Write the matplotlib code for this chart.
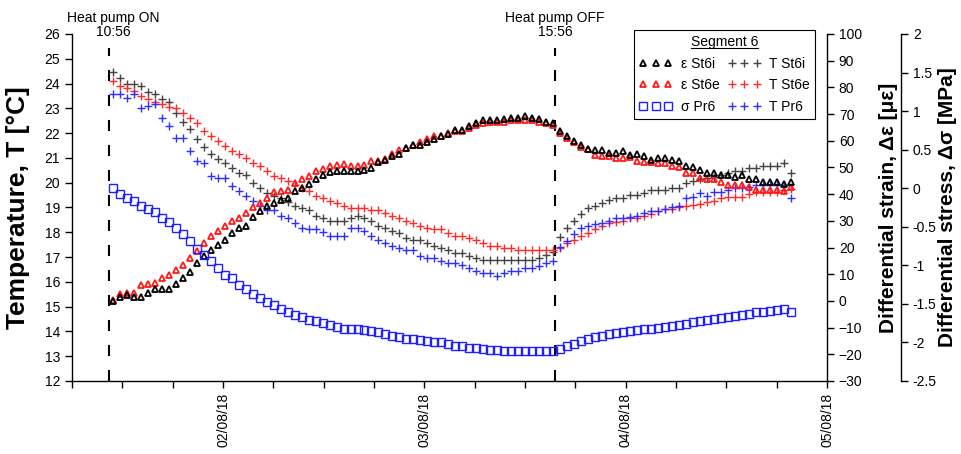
import matplotlib
matplotlib.use('Agg')
import matplotlib.pyplot as plt
import matplotlib.dates as mdates
import matplotlib.transforms as mtransforms
from matplotlib.lines import Line2D
from matplotlib.ticker import FuncFormatter
import pandas as pd

plt.rcParams['font.family'] = ['Liberation Sans', 'DejaVu Sans']

# logger samples every 50 min, first one just after the heat pump went on
first_sample = '2018-08-01 10:52'
sample_step = '50min'
heat_on = pd.Timestamp('2018-08-01 10:56')
heat_off = pd.Timestamp('2018-08-03 15:56')
# where the dashed markers sit in the picture
on_line = pd.Timestamp('2018-08-01 10:27')
off_line = pd.Timestamp('2018-08-03 15:34')
x_start = pd.Timestamp('2018-08-01 06:00')
x_end = pd.Timestamp('2018-08-05 00:00')

# differential strain [microstrain]
eps_st6i = [0.0, 1.3, 2.2, 1.6, 1.6, 2.8, 4.3, 4.6, 4.6, 6.5, 8.7, 10.8, 14.1, 17.0, 19.2, 20.9, 22.9, 25.3, 27.4,
            28.0, 31.4, 33.6, 35.5, 36.7, 37.7, 38.6, 41.1, 42.4, 43.9, 45.8, 47.1, 48.3, 48.6, 48.6, 48.6, 48.6, 49.2, 49.8,
            52.1, 52.9, 54.2, 55.1, 57.3, 58.5, 58.5, 59.5, 60.8, 61.9, 62.6, 64.1, 64.1, 65.4, 66.6, 67.9, 67.9, 67.9, 68.2,
            68.7, 68.7, 69.1, 68.7, 68.2, 67.2, 66.6, 63.8, 61.9, 60.0, 58.3, 57.0, 56.4, 56.4, 55.4, 55.4, 56.0, 54.8, 55.2, 54.2,
            52.9, 53.6, 53.6, 52.9, 52.3, 50.4, 50.2, 49.2, 48.0, 48.0, 47.3, 47.3, 46.3, 47.1, 45.5, 45.5, 44.5, 44.5, 44.5, 43.9, 44.5]
eps_st6e = [0.2, 2.5, 3.0, 3.0, 5.8, 6.2, 6.9, 8.5, 9.7, 11.7, 13.4, 16.2, 18.7, 21.8, 24.2, 26.2, 28.0, 29.9, 30.9,
            33.0, 35.1, 36.5, 38.6, 40.7, 41.1, 41.7, 44.2, 45.8, 46.7, 48.8, 49.5, 50.4, 51.1, 51.3, 50.7, 50.7, 51.1, 52.4,
            52.5, 53.3, 55.2, 56.4, 57.3, 58.5, 59.5, 60.8, 61.6, 61.9, 62.9, 63.8, 63.8, 64.8, 66.0, 66.6, 67.2, 67.2, 67.2,
            67.9, 67.9, 67.9, 67.6, 66.9, 66.6, 65.8, 62.9, 61.0, 59.5, 57.7, 57.0, 54.8, 54.4, 54.2, 53.6, 53.6, 53.9, 52.6, 52.1,
            52.1, 51.7, 51.7, 50.4, 50.2, 48.0, 48.0, 46.1, 45.7, 45.7, 44.5, 43.6, 43.6, 43.6, 42.6, 41.7, 41.7, 41.7, 41.7, 41.1, 42.6]

# differential stress [MPa]
sig_pr6 = [0.0, -0.07, -0.13, -0.17, -0.23, -0.27, -0.31, -0.38, -0.44, -0.52, -0.60, -0.68, -0.79, -0.87, -0.95, -1.04, -1.12, -1.17, -1.25,
           -1.31, -1.37, -1.43, -1.47, -1.52, -1.56, -1.61, -1.64, -1.67, -1.71, -1.72, -1.75, -1.77, -1.80, -1.82, -1.83, -1.83, -1.84, -1.85,
           -1.87, -1.89, -1.92, -1.93, -1.95, -1.96, -1.97, -1.98, -1.99, -2.00, -2.02, -2.04, -2.05, -2.07, -2.07, -2.09, -2.10, -2.10, -2.11,
           -2.11, -2.11, -2.11, -2.11, -2.11, -2.11, -2.11, -2.08, -2.05, -2.02, -1.98, -1.96, -1.93, -1.92, -1.89, -1.88, -1.86, -1.85, -1.84, -1.83,
           -1.83, -1.81, -1.80, -1.79, -1.78, -1.76, -1.74, -1.72, -1.71, -1.69, -1.68, -1.67, -1.66, -1.65, -1.63, -1.61, -1.60, -1.59, -1.58, -1.57, -1.60]

# temperatures [deg C]
t_st6i = [24.48, 24.21, 23.97, 23.97, 23.92, 23.67, 23.59, 23.38, 23.24, 22.80, 22.46, 22.17, 21.77, 21.46, 21.17, 20.97, 20.79, 20.59, 20.38,
          20.31, 19.98, 19.78, 19.60, 19.48, 19.37, 19.24, 19.08, 18.97, 18.88, 18.66, 18.57, 18.47, 18.47, 18.47, 18.57, 18.66, 18.57, 18.47,
          18.26, 18.17, 18.07, 17.98, 17.76, 17.69, 17.69, 17.56, 17.46, 17.38, 17.29, 17.16, 17.16, 17.06, 16.98, 16.89, 16.89, 16.89, 16.89,
          16.89, 16.89, 16.89, 16.89, 16.98, 17.09, 17.22, 17.79, 18.17, 18.47, 18.75, 18.97, 19.08, 19.20, 19.31, 19.39, 19.39, 19.50, 19.50, 19.60,
          19.70, 19.70, 19.70, 19.79, 19.79, 19.98, 20.08, 20.15, 20.20, 20.25, 20.30, 20.40, 20.48, 20.48, 20.58, 20.58, 20.69, 20.69, 20.69, 20.79, 20.38]
t_st6e = [24.10, 23.90, 23.81, 23.70, 23.50, 23.38, 23.27, 23.18, 23.07, 23.00, 22.80, 22.60, 22.40, 22.09, 21.89, 21.69, 21.48, 21.28, 21.17,
          20.99, 20.79, 20.69, 20.49, 20.29, 20.18, 20.08, 19.91, 19.78, 19.67, 19.47, 19.37, 19.28, 19.17, 19.08, 18.97, 18.97, 18.97, 18.88,
          18.88, 18.77, 18.67, 18.57, 18.47, 18.37, 18.27, 18.17, 18.14, 18.14, 17.96, 17.87, 17.87, 17.76, 17.67, 17.56, 17.46, 17.46, 17.36,
          17.36, 17.29, 17.29, 17.29, 17.29, 17.29, 17.29, 17.38, 17.56, 17.67, 17.87, 17.96, 18.15, 18.27, 18.37, 18.40, 18.47, 18.57, 18.57, 18.66,
          18.73, 18.84, 18.93, 18.93, 19.04, 19.08, 19.10, 19.13, 19.24, 19.28, 19.37, 19.44, 19.44, 19.44, 19.54, 19.64, 19.64, 19.64, 19.64, 19.71, 19.74]
t_pr6 = [23.58, 23.58, 23.41, 23.58, 23.00, 23.10, 23.18, 22.60, 22.29, 21.79, 21.79, 21.28, 20.88, 20.79, 20.27, 20.18, 20.18, 19.88, 19.68,
         19.48, 19.28, 19.08, 18.88, 18.88, 18.66, 18.57, 18.37, 18.17, 18.13, 18.13, 18.03, 17.87, 17.87, 17.87, 18.17, 18.17, 18.06, 17.87,
         17.67, 17.56, 17.46, 17.36, 17.27, 17.27, 17.06, 16.98, 16.98, 16.86, 16.75, 16.75, 16.66, 16.55, 16.44, 16.35, 16.35, 16.25, 16.35,
         16.44, 16.44, 16.55, 16.55, 16.65, 16.75, 16.85, 17.42, 17.65, 17.95, 18.17, 18.27, 18.34, 18.37, 18.47, 18.57, 18.57, 18.60, 18.66, 18.77,
         18.85, 18.85, 18.93, 19.00, 19.08, 19.37, 19.44, 19.58, 19.48, 19.62, 19.62, 19.71, 19.78, 19.78, 19.84, 19.91, 19.91, 19.91, 19.91, 19.91, 19.37]

times = pd.date_range(first_sample, periods=len(sig_pr6), freq=sample_step)

fig = plt.figure(figsize=(9.61, 4.54), dpi=100)
ax = fig.add_axes([72 / 961, 73 / 454, 755 / 961, 347 / 454])
ax2 = ax.twinx()
ax3 = ax.twinx()

# temperatures on the left axis
l_ti, = ax.plot(times, t_st6i, ls='none', marker='+', color='#444444', ms=5.5, mew=1.0, label='T St6i')
l_te, = ax.plot(times, t_st6e, ls='none', marker='+', color='#ff2a2a', ms=5.5, mew=1.0, label='T St6e')
l_tp, = ax.plot(times, t_pr6, ls='none', marker='+', color='#2f2fff', ms=5.5, mew=1.0, label='T Pr6')

# strain and stress on the right axes
l_ee, = ax2.plot(times, eps_st6e, ls='none', marker='^', mfc='none', mec='#ff1a1a', ms=4.3, mew=1.3, label='ε St6e')
l_ei, = ax2.plot(times, eps_st6i, ls='none', marker='^', mfc='none', mec='black', ms=4.3, mew=1.3, label='ε St6i')
l_s, = ax3.plot(times, sig_pr6, ls='none', marker='s', mfc='none', mec='#1f1fff', ms=5.2, mew=1.0, label='σ Pr6')

# heat pump on/off markers
for t in [on_line, off_line]:
    ax.plot([t, t], [12, 25.45], color='black', lw=1.5, dashes=(5.3, 6.7), zorder=1)
trans = mtransforms.blended_transform_factory(ax.transData, ax.transAxes)
ax.text(heat_on, 0.985, 'Heat pump ON\n10:56', transform=trans, ha='center', va='bottom', fontsize=10, linespacing=1.05)
ax.text(off_line, 0.985, 'Heat pump OFF\n15:56', transform=trans, ha='center', va='bottom', fontsize=10, linespacing=1.05)

# left axis
ax.set_xlim(x_start, x_end)
ax.set_ylim(12, 26)
ax.set_yticks(range(12, 27))
ax.set_ylabel('Temperature, T [°C]', fontsize=19, fontweight='bold')
ax.yaxis.set_label_coords(-0.055, 0.5)
ax.xaxis.set_major_locator(mdates.DayLocator())
ax.xaxis.set_minor_locator(mdates.HourLocator(byhour=[0, 6, 12, 18]))
ax.xaxis.set_major_formatter(mdates.DateFormatter('%d/%m/%y'))
for lab in ax.get_xticklabels():
    lab.set_rotation(90)
ax.tick_params(axis='both', which='both', direction='out', length=5, width=1, labelsize=10)
ax.spines['top'].set_visible(False)
ax.spines['right'].set_visible(False)

# strain axis
ax2.set_ylim(-30, 100)
ax2.set_yticks(range(-30, 101, 10))
ax2.set_ylabel('Differential strain, Δε [με]', fontsize=15, fontweight='bold')
ax2.yaxis.set_label_coords(1.069, 0.5)

# stress axis
ax3.set_ylim(-2.5, 2)
ax3.set_yticks([-2.5, -2, -1.5, -1, -0.5, 0, 0.5, 1, 1.5, 2])
ax3.yaxis.set_major_formatter(FuncFormatter(lambda v, p: '%g' % v))
ax3.spines['right'].set_position(('axes', 1.098))
ax3.set_ylabel('Differential stress, Δσ [MPa]', fontsize=15, fontweight='bold')
ax3.yaxis.set_label_coords(1.147, 0.5)

for a in [ax2, ax3]:
    for s in ['top', 'left', 'bottom']:
        a.spines[s].set_visible(False)
    a.tick_params(axis='y', direction='out', length=5, width=1, labelsize=10)

for a in [ax, ax2, ax3]:
    for s in a.spines.values():
        s.set_linewidth(1.0)

leg = ax3.legend([l_ei, l_ee, l_s, l_ti, l_te, l_tp],
                 ['ε St6i', 'ε St6e', 'σ Pr6', 'T St6i', 'T St6e', 'T Pr6'],
                 ncol=2, loc='upper right', bbox_to_anchor=(815 / 961, 1 - 30 / 454),
                 bbox_transform=fig.transFigure, borderaxespad=0, title='Segment 6',
                 fontsize=10, title_fontsize=10,
                 numpoints=3, fancybox=False, edgecolor='black', framealpha=1,
                 handlelength=2.4, handletextpad=0.6, columnspacing=0.6,
                 borderpad=0.35, labelspacing=0.55)
leg.get_frame().set_linewidth(0.8)

# underline the legend title
fig.canvas.draw()
bb = leg.get_title().get_window_extent().transformed(fig.transFigure.inverted())
fig.add_artist(Line2D([bb.x0, bb.x1], [bb.y0 + 0.002, bb.y0 + 0.002], color='black', lw=0.8,
                      transform=fig.transFigure))

fig.savefig('out.png', dpi=100)
